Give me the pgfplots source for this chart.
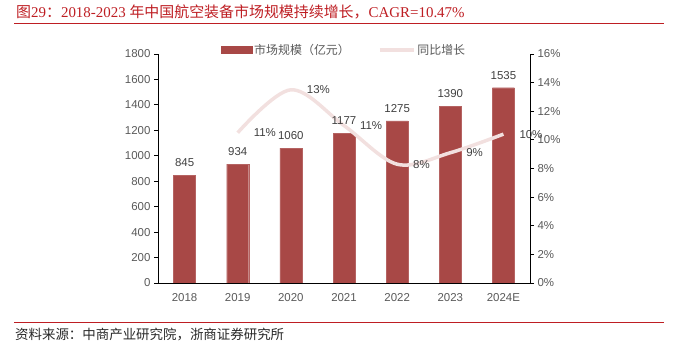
\documentclass[border=0pt]{standalone}
\usepackage{fontspec}
\setmainfont{Liberation Sans}
\newfontfamily\cjk{Noto Sans CJK SC}
\newfontfamily\serif{Liberation Serif}
\usepackage{pgfplots}
\pgfplotsset{compat=1.18}
\definecolor{barred}{RGB}{168,72,70}
\definecolor{linepink}{RGB}{242,224,223}
\definecolor{titlered}{RGB}{190,30,35}
\definecolor{tickgray}{RGB}{89,89,89}
\definecolor{labelgray}{RGB}{64,64,64}
\definecolor{srcgray}{RGB}{40,40,40}
\pgfplotsset{
  common/.style={
    at={(158bp,66bp)}, anchor=south west,
    scale only axis, width=372bp, height=229bp,
    xmin=-0.5, xmax=6.5,
    /pgf/number format/assume math mode=true,
    /pgf/number format/1000 sep={},
    ticklabel style={font=\fontsize{11.5}{13}\selectfont, text=tickgray},
    axis line style={black, line width=0.8bp},
    tick align=outside, major tick length=4bp,
  }
}
\begin{document}
\begin{tikzpicture}
\path[use as bounding box] (0,0) rectangle (678bp,349bp);
\node[anchor=west, text=titlered, font=\fontsize{15}{17}\selectfont, inner sep=0] at (16bp,337bp)
 {{\cjk 图}{\serif 29}{\cjk ：}{\serif 2018-2023 }{\cjk 年中国航空装备市场规模持续增长，}{\serif CAGR=10.47\%}};
\draw[titlered, line width=1bp] (14bp,325bp) -- (664bp,325bp);
\draw[titlered, line width=1bp] (14bp,26bp) -- (664bp,26bp);
\node[anchor=west, text=srcgray, font=\cjk\fontsize{13.5}{15}\selectfont, inner sep=0] at (15bp,14bp)
 {资料来源：中商产业研究院，浙商证券研究所};

\begin{axis}[common,
  ymin=0, ymax=1800,
  axis x line*=bottom, axis y line*=left,
  xtick={0,...,6},
  xticklabels={2018,2019,2020,2021,2022,2023,2024E},
  x tick style={draw=none},
  ytick={0,200,...,1800},
  y tick style={black, line width=0.8bp},
  xticklabel style={yshift=-3bp},
  scaled y ticks=false,
  legend style={at={(0.50,1.0175)}, anchor=center, draw=none, fill=none,
    font=\cjk\fontsize{12}{14}\selectfont, text=tickgray,
    legend columns=2, /tikz/every even column/.append style={column sep=26bp}},
]
\addplot[ybar, bar width=22bp, fill=barred, draw=barred!85!white, forget plot] coordinates {
  (0,845) (1,934) (2,1060) (3,1177) (4,1275) (5,1390) (6,1535)
};
\addlegendimage{legend image code/.code={\fill[barred] (0bp,-3.5bp) rectangle (31bp,3.5bp);}}
\addlegendentry{市场规模（亿元）}
\addlegendimage{legend image code/.code={\draw[linepink, line width=3.5bp] (0bp,0bp) -- (34bp,0bp);}}
\addlegendentry{同比增长}
\end{axis}

\begin{axis}[common,
  ymin=0, ymax=16,
  axis x line=none, axis y line*=right,
  ytick={0,2,...,16},
  yticklabel={\pgfmathprintnumber{\tick}\%},
  y tick style={black, line width=0.8bp},
  clip=false,
]
\addplot[linepink, line width=3.5bp, smooth, tension=0.55,
  point meta=explicit symbolic,
  nodes near coords,
  every node near coord/.append style={font=\fontsize{11.5}{13}\selectfont, text=labelgray, anchor=west, xshift=11bp, yshift=0bp}]
  coordinates {
  (1,10.5) [11\%]
  (2,13.5) [13\%]
  (3,11.0) [11\%]
  (4,8.3) [8\%]
  (5,9.1) [9\%]
  (6,10.4) [10\%]
};
\end{axis}

\begin{axis}[common, ymin=0, ymax=1800, hide axis, clip=false]
\addplot[draw=none, mark=none,
  nodes near coords,
  every node near coord/.append style={font=\fontsize{11.5}{13}\selectfont, text=labelgray, yshift=5bp}]
  coordinates {
  (0,845) (1,934) (2,1060) (3,1177) (4,1275) (5,1390) (6,1535)
};
\end{axis}
\end{tikzpicture}
\end{document}
